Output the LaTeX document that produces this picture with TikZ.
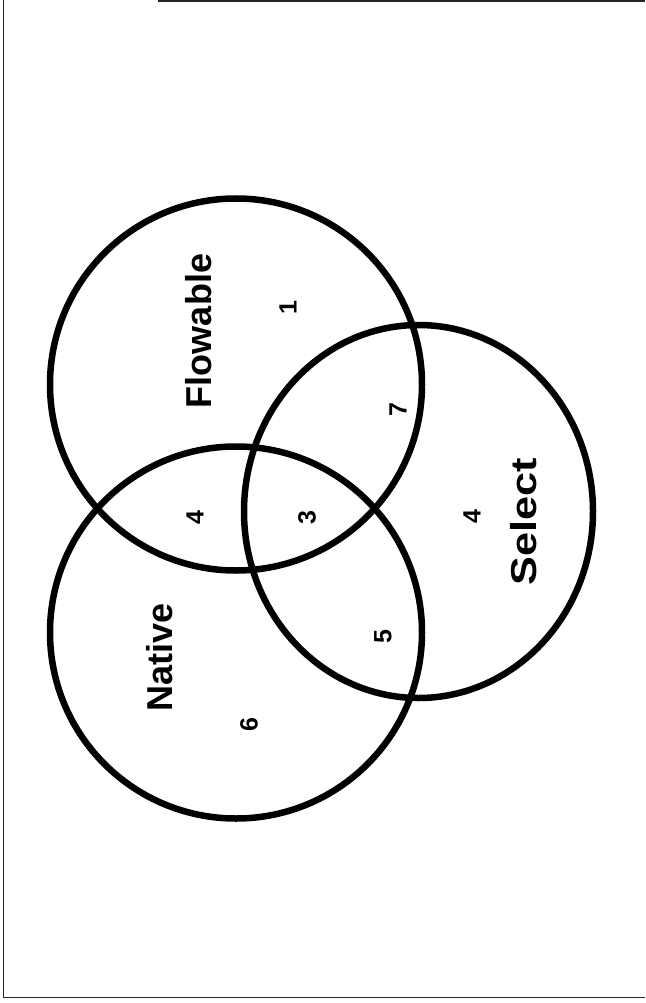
\documentclass[tikz,border=0pt]{standalone}
\usepackage{fontspec}
\setmainfont{Liberation Sans}
\usetikzlibrary{shapes.geometric}
\begin{document}
\begin{tikzpicture}[x=1pt,y=-1pt,
  ring/.style={draw=black, line width=6.5pt, inner sep=0pt},
  frame/.style={draw=black!85, line width=1.5pt},
  big/.style={font=\fontsize{36}{36}\selectfont\bfseries, rotate=90, inner sep=0pt},
  num/.style={font=\fontsize{25}{25}\selectfont\bfseries, rotate=90, inner sep=0pt}]
\useasboundingbox (0,0) rectangle (645,1003);
% frame
\coordinate (tl) at (158,0.8);
\coordinate (tr) at (645,0.8);
\coordinate (lt) at (3.5,0);
\coordinate (lb) at (3.5,998);
\coordinate (bl) at (3.5,997.5);
\coordinate (br) at (645,997.5);
\draw[frame] (tl) -- (tr);
\draw[frame] (lt) -- (lb);
\draw[frame] (bl) -- (br);
% sets
\node[ring, circle, minimum size=372pt] (native) at (236,632.5) {};
\node[ring, circle, minimum size=372pt] (flowable) at (236,384.5) {};
\node[ring, ellipse, minimum width=349pt, minimum height=373pt] (select) at (418.5,511.5) {};
% labels
\node[big] (lnative) at (160,657) {Native};
\node[big] (lflow) at (198.5,331) {Flowable};
\node[big] (lselect) at (523.5,522) {\scalebox{1.2}[1]{Select}};
% counts
\node[num] (n6) at (249,725) {6};
\node[num] (n1) at (288,308) {1};
\node[num] (n7) at (398,410) {7};
\node[num] (n4a) at (195,518) {4};
\node[num] (n3) at (307,518) {3};
\node[num] (n5) at (383,637) {5};
\node[num] (n4b) at (472,517) {4};
\end{tikzpicture}
\end{document}
